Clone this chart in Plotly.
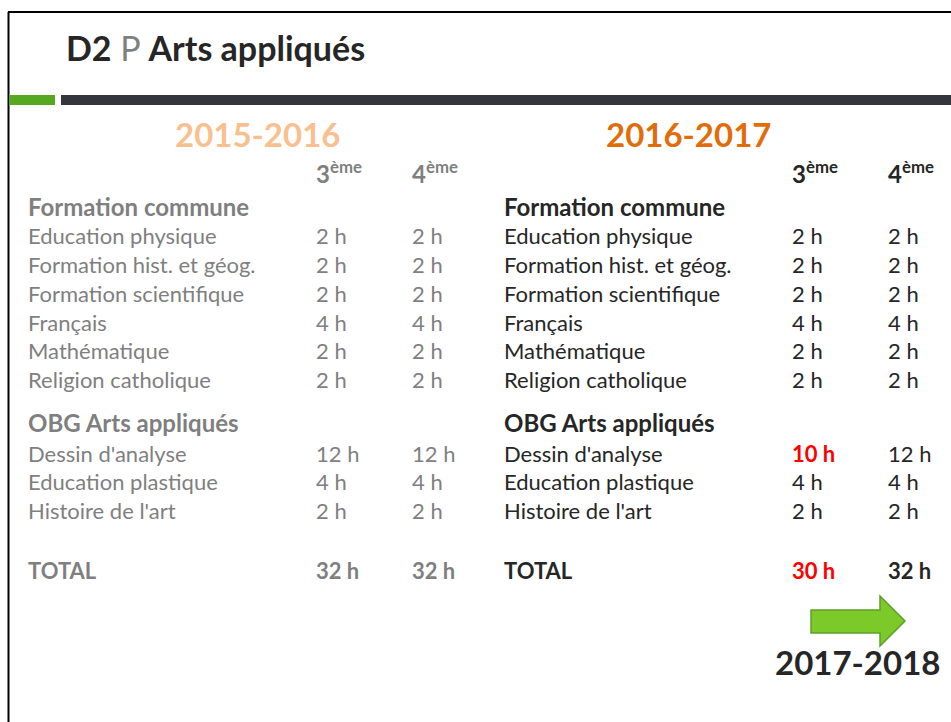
import plotly.graph_objects as go

# ---------------- data ----------------
years = ["2015-2016", "2016-2017"]
grades = ["3", "4"]
fc_title = "Formation commune"
fc_subjects = ["Education physique", "Formation hist. et géog.", "Formation scientifique",
               "Français", "Mathématique", "Religion catholique"]
fc_2015_3e = [2, 2, 2, 4, 2, 2]
fc_2015_4e = [2, 2, 2, 4, 2, 2]
fc_2016_3e = [2, 2, 2, 4, 2, 2]
fc_2016_4e = [2, 2, 2, 4, 2, 2]

obg_title = "OBG Arts appliqués"
obg_subjects = ["Dessin d'analyse", "Education plastique", "Histoire de l'art"]
obg_2015_3e = [12, 4, 2]
obg_2015_4e = [12, 4, 2]
obg_2016_3e = [10, 4, 2]
obg_2016_4e = [12, 4, 2]

total_label = "TOTAL"
total_2015 = [32, 32]
total_2016 = [30, 32]
next_year = "2017-2018"

# ---------------- style / layout ----------------
W, H = 951, 722
FONT = "Lato"
DARK = "#262626"
GRAY = "#7f7f7f"
RED = "#ff0000"
ORANGE_LIGHT = "#fabf8f"
ORANGE = "#e36c0a"

FS = 22        # body text
FS_HEAD = 24   # section headers
FS_YEAR = 33
LEFT = {"label_x": 29, "col_x": [317, 413], "color": GRAY, "year_x": 257, "year_color": ORANGE_LIGHT}
RIGHT = {"label_x": 505, "col_x": [793, 889], "color": DARK, "year_x": 688, "year_color": ORANGE}

Y_YEAR = 135
Y_GRADE = 173
Y_FC = 207
Y_FC_ROWS = [236, 265, 294, 323, 351, 380]
Y_OBG = 423
Y_OBG_ROWS = [454, 482, 511]
Y_TOTAL = 571

fig = go.Figure()
ann = []


def txt(x, y, text, size=FS, color=DARK, bold=False, xanchor="left"):
    if bold:
        text = "<b>" + text + "</b>"
    ann.append(dict(x=x, y=y, xref="x", yref="y", text=text, showarrow=False,
                    xanchor=xanchor, yanchor="middle",
                    xshift=-3 if xanchor == "left" else 0, yshift=1,
                    font=dict(family=FONT, size=size, color=color)))


# Title
txt(67, 48, "<b>D2</b> <span style='color:%s'>P</span> <b>Arts appliqués</b>" % GRAY, size=34)

blocks = [
    (LEFT, years[0], [fc_2015_3e, fc_2015_4e], [obg_2015_3e, obg_2015_4e], total_2015, None),
    (RIGHT, years[1], [fc_2016_3e, fc_2016_4e], [obg_2016_3e, obg_2016_4e], total_2016,
     ([fc_2015_3e, fc_2015_4e], [obg_2015_3e, obg_2015_4e], total_2015)),
]

for side, year, fc_vals, obg_vals, totals, ref in blocks:
    col = side["color"]
    txt(side["year_x"], Y_YEAR, year, size=FS_YEAR, color=side["year_color"], bold=True, xanchor="center")
    for gi, g in enumerate(grades):
        txt(side["col_x"][gi], Y_GRADE, "<b>%s<sup>ème</sup></b>" % g, size=24, color=col)
    txt(side["label_x"], Y_FC, fc_title, size=FS_HEAD, color=col, bold=True)
    for i, s in enumerate(fc_subjects):
        txt(side["label_x"], Y_FC_ROWS[i], s, color=col)
        for gi in range(2):
            v = fc_vals[gi][i]
            changed = ref is not None and ref[0][gi][i] != v
            txt(side["col_x"][gi], Y_FC_ROWS[i], "%d h" % v, color=RED if changed else col, bold=changed)
    txt(side["label_x"], Y_OBG, obg_title, size=FS_HEAD, color=col, bold=True)
    for i, s in enumerate(obg_subjects):
        txt(side["label_x"], Y_OBG_ROWS[i], s, color=col)
        for gi in range(2):
            v = obg_vals[gi][i]
            changed = ref is not None and ref[1][gi][i] != v
            txt(side["col_x"][gi], Y_OBG_ROWS[i], "%d h" % v, color=RED if changed else col, bold=changed)
    txt(side["label_x"], Y_TOTAL, total_label, color=col, bold=True)
    for gi in range(2):
        v = totals[gi]
        changed = ref is not None and ref[2][gi] != v
        txt(side["col_x"][gi], Y_TOTAL, "%d h" % v, color=RED if changed else col, bold=True)

txt(857, 663, next_year, size=FS_YEAR, color=DARK, bold=True, xanchor="center")

shapes = [
    # slide border
    dict(type="line", x0=8, y0=12, x1=W, y1=12, line=dict(color="black", width=2)),
    dict(type="line", x0=8.5, y0=12, x1=8.5, y1=H, line=dict(color="black", width=2)),
    # header band
    dict(type="rect", x0=9, y0=95, x1=55, y1=105, fillcolor="#55a81f", line=dict(width=0)),
    dict(type="rect", x0=61, y0=95, x1=W, y1=105, fillcolor="#34363e", line=dict(width=0)),
    # arrow to next year
    dict(type="path",
         path="M 811 610 L 880 610 L 880 596 L 905 621 L 880 646 L 880 633 L 811 633 Z",
         fillcolor="#7cc92a", line=dict(color="#5d9e24", width=1.5)),
]

fig.update_layout(
    width=W, height=H, margin=dict(l=0, r=0, t=0, b=0),
    paper_bgcolor="white", plot_bgcolor="white",
    xaxis=dict(range=[0, W], visible=False, fixedrange=True),
    yaxis=dict(range=[H, 0], visible=False, fixedrange=True),
    annotations=ann, shapes=shapes, showlegend=False,
)

fig.write_html("out.html", config={"displayModeBar": False},
               post_script="document.body.style.margin='0';document.body.style.overflow='hidden';")
